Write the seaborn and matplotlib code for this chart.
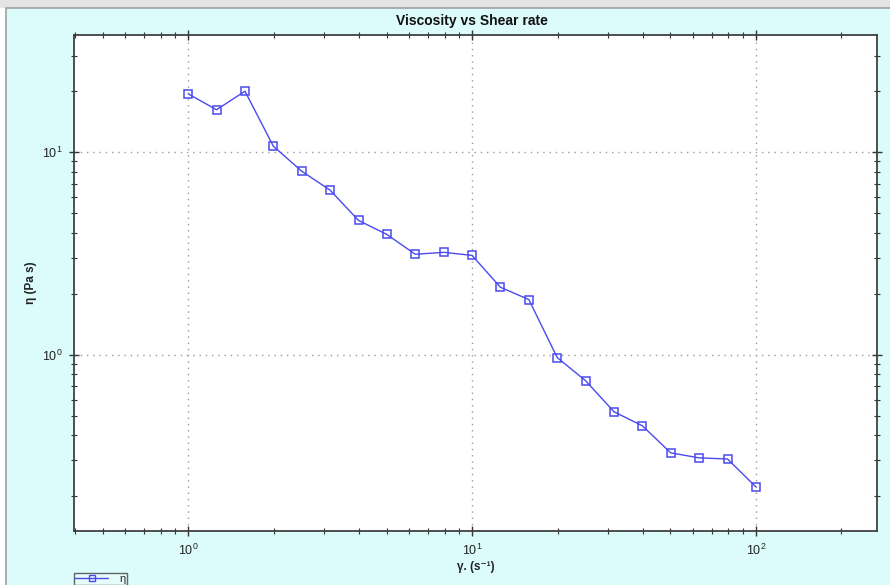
import numpy as np
import pandas as pd
import matplotlib
matplotlib.use("Agg")
import matplotlib.pyplot as plt
import matplotlib.ticker as mticker
from matplotlib.patches import Rectangle
from matplotlib.lines import Line2D
import seaborn as sns

shear_rate = [1.0, 1.259, 1.585, 1.995, 2.512, 3.162, 3.981, 5.012, 6.310, 7.943,
              10.0, 12.59, 15.85, 19.95, 25.12, 31.62, 39.81, 50.12, 63.10, 79.43, 100.0]
viscosity = [19.4, 16.2, 20.0, 10.7, 8.05, 6.49, 4.60, 3.92, 3.13, 3.20,
             3.09, 2.15, 1.87, 0.967, 0.743, 0.522, 0.445, 0.327, 0.309, 0.305, 0.222]
series_name = "η"

df = pd.DataFrame({"x": shear_rate, "y": viscosity, "series": series_name})

sns.set_theme(style="ticks")
plt.rcParams['font.family'] = ['Liberation Sans', 'DejaVu Sans']

W, H = 890, 585
fig = plt.figure(figsize=(W / 100, H / 100), dpi=100, facecolor="white")
# background panels
fig.patches.append(Rectangle((0, (H - 8) / H), 1, 8 / H, transform=fig.transFigure,
                             facecolor="#e4e4e4", edgecolor="none", zorder=-3))
fig.patches.append(Rectangle((6 / W, -0.01), 1.0, (H - 8) / H + 0.01, transform=fig.transFigure,
                             facecolor="#dcfbfb", edgecolor="#a0a0a0", linewidth=1.2, zorder=-2))

ax = fig.add_axes([74 / W, 1 - 531 / H, (877 - 74) / W, (531 - 35) / H])
ax.set_facecolor("white")

line_color = "#4a4af0"
sns.lineplot(data=df, x="x", y="y", hue="series", palette=[line_color], marker="s",
             markersize=6, markerfacecolor="none", markeredgecolor=line_color,
             markeredgewidth=1.1, linewidth=1.0, ax=ax, legend=False, zorder=3)

ax.set_xscale("log")
ax.set_yscale("log")
ax.set_xlim(0.396, 267)
ax.set_ylim(0.1345, 37.9)

ax.xaxis.set_major_locator(mticker.LogLocator(base=10, numticks=10))
ax.yaxis.set_major_locator(mticker.LogLocator(base=10, numticks=10))
ax.xaxis.set_minor_locator(mticker.LogLocator(base=10, subs=np.arange(2, 10), numticks=20))
ax.yaxis.set_minor_locator(mticker.LogLocator(base=10, subs=np.arange(2, 10), numticks=20))
ax.xaxis.set_minor_formatter(mticker.NullFormatter())
ax.yaxis.set_minor_formatter(mticker.NullFormatter())

ax.tick_params(which="major", direction="inout", length=7, width=1, color="#333333",
               top=True, right=True, labelsize=9, labelcolor="#222222", pad=5)
ax.tick_params(which="minor", direction="inout", length=4, width=0.8, color="#333333",
               top=True, right=True)

ax.grid(True, which="major", linestyle=(0, (1, 3.5)), color="#9a9a9a", linewidth=1.0)
for s in ax.spines.values():
    s.set_color("#404040")
    s.set_linewidth(1.3)

ax.set_xlabel("γ. (s⁻¹)", fontsize=8.5, fontweight="bold", labelpad=2, color="#222222")
ax.set_ylabel("η (Pa s)", fontsize=8.5, fontweight="bold", labelpad=3, color="#222222")
fig.text(472 / W, 1 - 21 / H, "Viscosity vs Shear rate", ha="center", va="center",
         fontsize=10, fontweight="bold", color="#111111")

handle = Line2D([], [], color=line_color, marker="s", markersize=5, markerfacecolor="none",
                markeredgecolor=line_color, linewidth=1.0)
leg = fig.legend([handle], [series_name], loc="upper left",
                 bbox_to_anchor=(74 / W, 1 - 573 / H), frameon=True, fontsize=8,
                 handlelength=3.0, borderpad=0.1, handletextpad=1.0, borderaxespad=0,
                 fancybox=False)
leg.get_frame().set_edgecolor("#404040")
leg.get_frame().set_facecolor("#e8fdfd")
leg.get_frame().set_linewidth(1.0)

fig.savefig("out.png", dpi=100, facecolor=fig.get_facecolor())
